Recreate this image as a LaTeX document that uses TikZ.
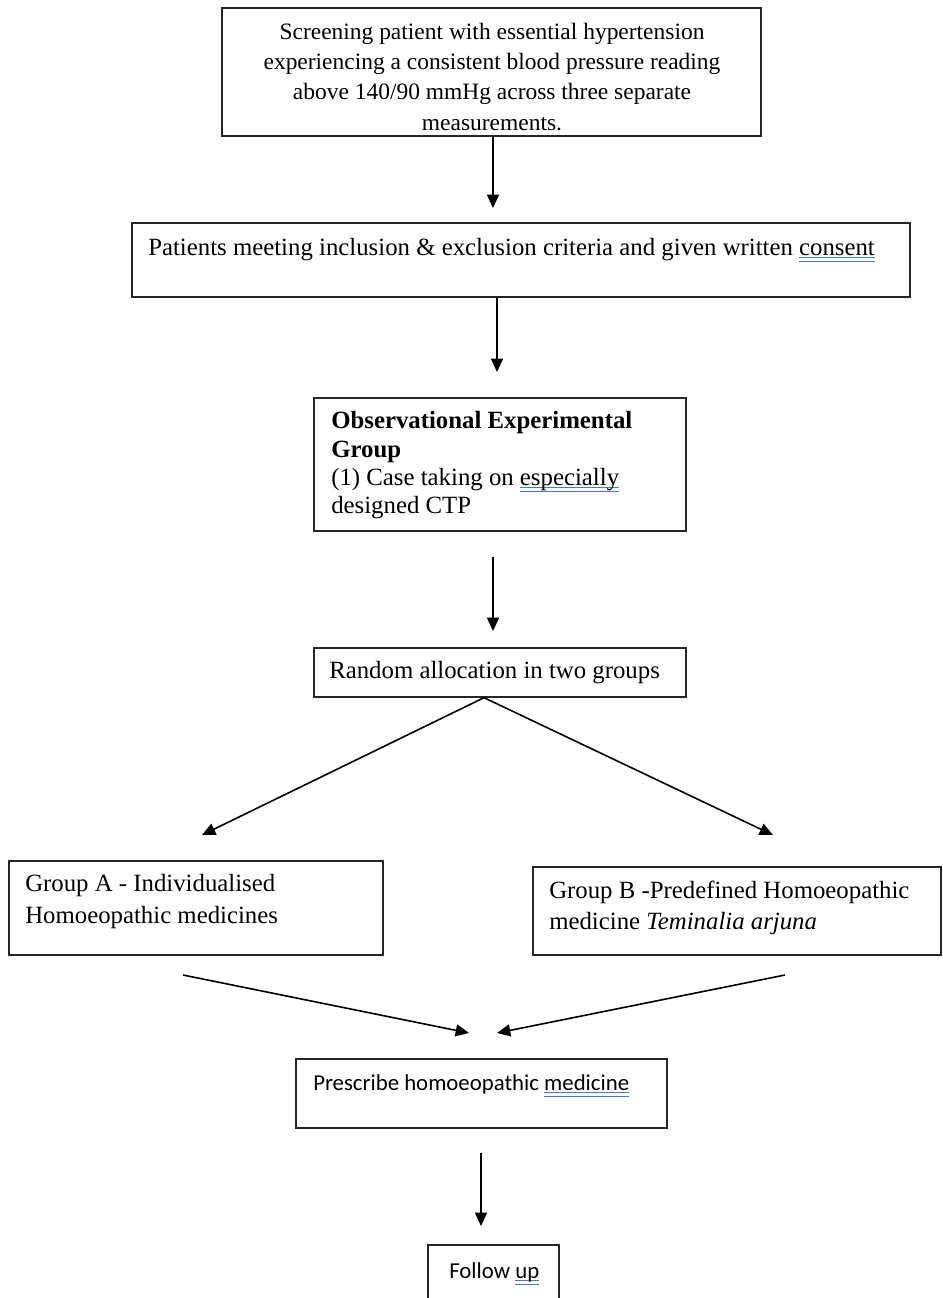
\documentclass[tikz,border=0pt]{standalone}
\usepackage{fontspec}
\setmainfont{Liberation Serif}
\newfontfamily\calfont{Carlito}
\usetikzlibrary{arrows.meta}
\definecolor{ulblue}{RGB}{70,120,220}
\newcommand\wordul[1]{\setbox0=\hbox{#1}\rlap{\textcolor{ulblue}{\rule[-2pt]{\wd0}{0.8pt}}}\rlap{\textcolor{ulblue}{\rule[-5pt]{\wd0}{0.8pt}}}\box0}
\begin{document}
\begin{tikzpicture}[x=0.75pt,y=-0.75pt,
  box/.style={draw=black!85,line width=1pt,inner sep=0pt},
  tx/.style={anchor=base west,inner sep=0pt,font=\fontsize{18.6}{22}\selectfont},
  txc/.style={anchor=base,inner sep=0pt,font=\fontsize{17.6}{22}\selectfont},
  txs/.style={anchor=base west,inner sep=0pt,font=\calfont\fontsize{17.1}{21}\selectfont},
  arr/.style={line width=1.2pt,-{Triangle[length=10pt,width=9pt]}}]
\clip (0,0) rectangle (942,1298);
\fill[white] (0,0) rectangle (942,1298);

% boxes
\node[box,minimum width=404.25pt,minimum height=96pt] (scr) at (491.5,72) {};
\node[box,minimum width=583.5pt,minimum height=55.5pt] (pat) at (521,260) {};
\node[box,minimum width=279pt,minimum height=99.75pt] (obs) at (500,464.5) {};
\node[box,minimum width=279pt,minimum height=36.75pt] (rnd) at (500,672.5) {};
\node[box,minimum width=280.5pt,minimum height=70.5pt] (ga) at (196,908) {};
\node[box,minimum width=306pt,minimum height=66pt] (gb) at (737,911) {};
\node[box,minimum width=278.25pt,minimum height=51.75pt] (pre) at (481.5,1093.5) {};
\node[box,minimum width=98.25pt,minimum height=52.5pt] (fol) at (493.5,1280) {};

% texts
\node[txc] (scr1) at (492,40) {Screening patient with essential hypertension};
\node[txc] (scr2) at (492,70) {experiencing a consistent blood pressure reading};
\node[txc] (scr3) at (492,100) {above 140/90 mmHg across three separate};
\node[txc] (scr4) at (492,131) {measurements.};

\node[tx] (pat1) at (148,255) {Patients meeting inclusion \& exclusion criteria and given written \wordul{consent}};

\node[tx] (obs1) at (331,428) {\textbf{Observational Experimental}};
\node[tx] (obs2) at (331,457) {\textbf{Group}};
\node[tx] (obs3) at (331,485) {(1) Case taking on \wordul{especially}};
\node[tx] (obs4) at (331,513) {designed CTP};

\node[tx] (rnd1) at (329,678) {Random allocation in two groups};

\node[tx] (ga1) at (25,891) {Group A - Individualised};
\node[tx] (ga2) at (25,923) {Homoeopathic medicines};

\node[tx] (gb1) at (549,898) {Group B -Predefined Homoeopathic};
\node[tx] (gb2) at (549,929) {medicine \textit{Teminalia arjuna}};

\node[txs] (pre1) at (313,1090) {Prescribe homoeopathic \wordul{medicine}};
\node[txs] (fol1) at (449,1278) {Follow \wordul{up}};

% connectors
\coordinate (a1e) at (493,208);
\draw[arr] (scr.south -| a1e) -- (a1e);
\coordinate (a2e) at (497,372);
\draw[arr] (pat.south -| a2e) -- (a2e);
\coordinate (a3s) at (493,557);
\coordinate (a3e) at (493,631);
\draw[arr] (a3s) -- (a3e);
\coordinate (sp) at ([xshift=-12pt]rnd.south);
\coordinate (la) at (202,835);
\coordinate (lb) at (773,835);
\draw[arr] (sp) -- (la);
\draw[arr] (sp) -- (lb);
\coordinate (ga0) at (183,975);
\coordinate (gb0) at (785,975);
\coordinate (m1) at (469,1033);
\coordinate (m2) at (497,1033);
\draw[arr] (ga0) -- (m1);
\draw[arr] (gb0) -- (m2);
\coordinate (a6s) at (481,1153);
\coordinate (a6e) at (481,1226);
\draw[arr] (a6s) -- (a6e);
\end{tikzpicture}
\end{document}
